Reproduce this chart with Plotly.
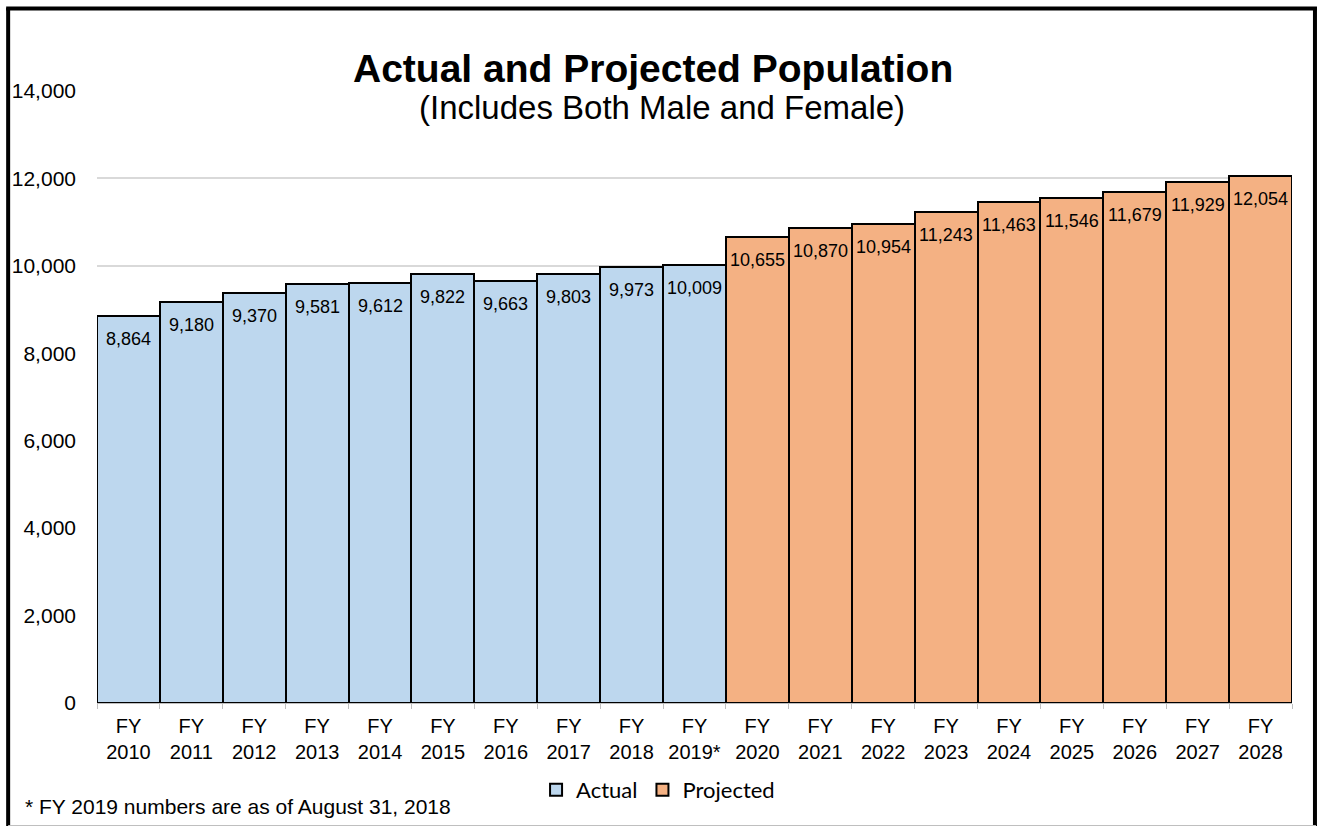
import plotly.graph_objects as go

# categories and values
actual_years = ["FY<br>2010", "FY<br>2011", "FY<br>2012", "FY<br>2013", "FY<br>2014",
                "FY<br>2015", "FY<br>2016", "FY<br>2017", "FY<br>2018", "FY<br>2019*"]
actual_pop = [8864, 9180, 9370, 9581, 9612, 9822, 9663, 9803, 9973, 10009]

projected_years = ["FY<br>2020", "FY<br>2021", "FY<br>2022", "FY<br>2023", "FY<br>2024",
                   "FY<br>2025", "FY<br>2026", "FY<br>2027", "FY<br>2028"]
projected_pop = [10655, 10870, 10954, 11243, 11463, 11546, 11679, 11929, 12054]

y_ticks = [0, 2000, 4000, 6000, 8000, 10000, 12000, 14000]

ARIAL = "Arial, Liberation Sans, sans-serif"

fig = go.Figure()

fig.add_trace(go.Bar(
    x=actual_years, y=actual_pop, name="Actual",
    marker=dict(color="#BDD7EE", line=dict(color="black", width=2)),
))
fig.add_trace(go.Bar(
    x=projected_years, y=projected_pop, name="Projected",
    marker=dict(color="#F4B183", line=dict(color="black", width=2)),
))

# value labels sit a little below the top of each bar
labels = []
for xs, ys in [(actual_years, actual_pop), (projected_years, projected_pop)]:
    for xc, v in zip(xs, ys):
        labels.append(dict(x=xc, y=v, xref="x", yref="y", text=f"{v:,}",
                           showarrow=False, yanchor="middle", yshift=-23,
                           font=dict(family=ARIAL, size=18, color="black")))

# body margin is removed in the page, so pixels map straight onto the reference
W, H = 1318, 827
L, R, T, B = 95, 1292, 91, 703
def px(x): return (x - L) / (R - L)
def py(y): return (B - y) / (B - T)

shapes = [
    dict(type="line", xref="paper", yref="paper", x0=px(6), x1=px(6), y0=py(8), y1=py(826),
         line=dict(color="black", width=4)),
    dict(type="line", xref="paper", yref="paper", x0=px(4), x1=px(1317), y0=py(8.5), y1=py(8.5),
         line=dict(color="black", width=4)),
    dict(type="line", xref="paper", yref="paper", x0=px(1315), x1=px(1315), y0=py(7), y1=py(826),
         line=dict(color="black", width=4)),
    dict(type="line", xref="paper", yref="paper", x0=px(6), x1=px(1316), y0=py(825.5), y1=py(825.5),
         line=dict(color="#BFBFBF", width=1)),
]

fig.update_layout(
    width=W, height=H,
    margin=dict(l=L, r=W - R, t=T, b=H - B),
    paper_bgcolor="white", plot_bgcolor="white",
    barmode="overlay", bargap=0,
    font=dict(family=ARIAL, size=20, color="black"),
    showlegend=True,
    legend=dict(orientation="h", x=px(657), xanchor="center", y=py(790), yanchor="middle",
                font=dict(family="Lato, Open Sans", size=22, color="black"),
                traceorder="normal", itemwidth=30),
    shapes=shapes,
    annotations=labels + [
        dict(text="<b>Actual and Projected Population</b>", xref="paper", yref="paper",
             x=px(652), y=py(69), xanchor="center", yanchor="middle", showarrow=False,
             font=dict(family=ARIAL, size=39, color="black")),
        dict(text="(Includes Both Male and Female)", xref="paper", yref="paper",
             x=px(661), y=py(107), xanchor="center", yanchor="middle", showarrow=False,
             font=dict(family=ARIAL, size=33, color="black")),
        dict(text="* FY 2019 numbers are as of August 31, 2018", xref="paper", yref="paper",
             x=px(21), y=py(806), xanchor="left", yanchor="middle", showarrow=False,
             font=dict(family=ARIAL, size=21, color="black")),
    ],
)

fig.update_xaxes(
    showgrid=False, showline=True, linecolor="#BFBFBF", linewidth=1,
    ticks="outside", ticklen=5, tickcolor="#BFBFBF",
    tickfont=dict(size=20), tickson="boundaries", ticklabelstandoff=5,
)
fig.update_yaxes(
    range=[0, 14000], tickvals=y_ticks, tickformat=",",
    showgrid=True, gridcolor="#D9D9D9", gridwidth=2,
    zeroline=False, showline=False, tickfont=dict(size=21), ticklabelstandoff=20,
)

fig.write_html("out.html", config={"displayModeBar": False},
               post_script="document.body.style.margin = '0';")
